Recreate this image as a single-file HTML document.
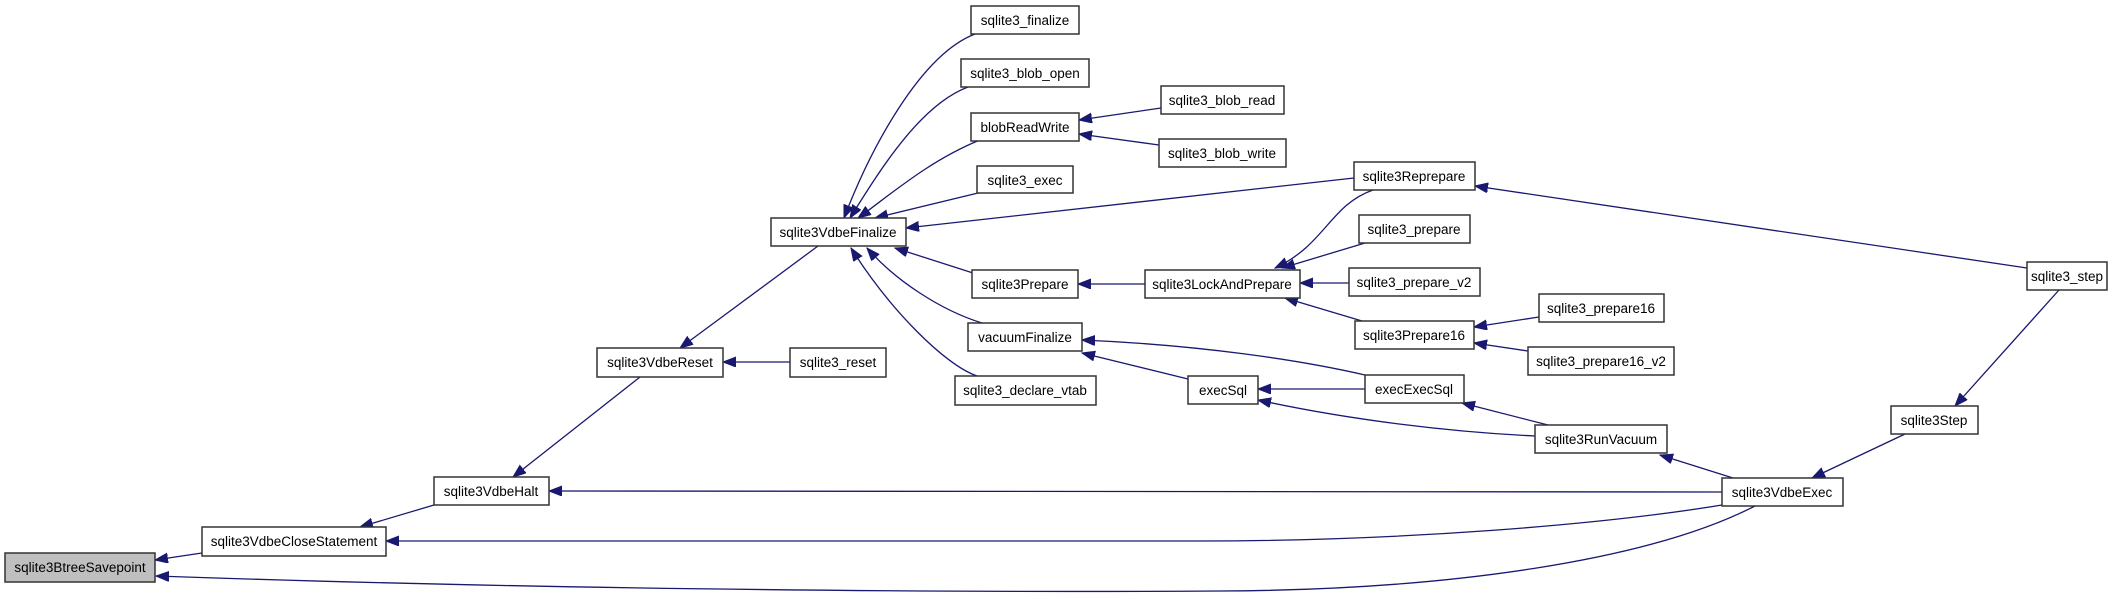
<!DOCTYPE html>
<html><head><meta charset="utf-8"><style>
html,body{margin:0;padding:0;background:#fff;}
svg{display:block;}
text{font-family:"Liberation Sans",sans-serif;font-size:13.5px;fill:#000;text-anchor:middle;}
.b{fill:#fff;stroke:#333;stroke-width:1.5;}
.e{fill:none;stroke:#191970;stroke-width:1.3;marker-end:url(#a);}
</style></head><body>
<svg width="2125" height="599" viewBox="0 0 2125 599" xmlns="http://www.w3.org/2000/svg">
<defs><marker id="a" markerUnits="userSpaceOnUse" markerWidth="14" markerHeight="12" refX="13" refY="5" orient="auto"><path d="M0,0 L13,5 L0,10 Z" fill="#191970" stroke="#191970"/></marker></defs>
<g>
<path class="e" d="M975,34 C920,55 870,150 844,218"/>
<path class="e" d="M968,87 C920,105 880,170 850,218"/>
<path class="e" d="M980,140 C930,160 890,195 858,218"/>
<path class="e" d="M978,193 L875,218"/>
<path class="e" d="M1354,178 L906,228"/>
<path class="e" d="M973,273 L895,248"/>
<path class="e" d="M982,323 C940,310 895,280 867,248"/>
<path class="e" d="M977,376 C945,365 890,310 851,248"/>
<path class="e" d="M818,246 L680,348"/>
<path class="e" d="M790,362 L723,362"/>
<path class="e" d="M640,377 L513,477"/>
<path class="e" d="M434,505 L360,527"/>
<path class="e" d="M202,553 L155,560"/>
<path class="e" d="M1722,492 L549,491"/>
<path class="e" d="M1722,505 C1600,525 1400,541 1200,541 L386,541"/>
<path class="e" d="M1755,506 C1650,560 1450,590 1220,591 C900,593 500,588 156,576"/>
<path class="e" d="M1161,108 L1079,120"/>
<path class="e" d="M1159,145 L1079,134"/>
<path class="e" d="M1145,284 L1078,284"/>
<path class="e" d="M1373,190 C1330,205 1325,245 1275,268"/>
<path class="e" d="M1365,243 L1282,268"/>
<path class="e" d="M1349,283 L1300,283"/>
<path class="e" d="M1362,321 L1285,298"/>
<path class="e" d="M1539,317 L1474,327"/>
<path class="e" d="M1528,351 L1474,343"/>
<path class="e" d="M2027,268 L1475,186"/>
<path class="e" d="M2059,290 L1955,406"/>
<path class="e" d="M1905,434 L1812,478"/>
<path class="e" d="M1365,375 C1300,360 1200,345 1082,340"/>
<path class="e" d="M1188,379 L1082,353"/>
<path class="e" d="M1365,389 L1258,389"/>
<path class="e" d="M1535,436 C1450,432 1350,420 1258,400"/>
<path class="e" d="M1548,425 L1462,403"/>
<path class="e" d="M1733,478 L1660,455"/>
</g>
<g>
<rect x="5" y="553" width="150" height="29" fill="#bfbfbf" stroke="#333" stroke-width="1.5"/><text x="80" y="572">sqlite3BtreeSavepoint</text>
<rect class="b" x="202" y="527" width="184" height="29"/><text x="294" y="546">sqlite3VdbeCloseStatement</text>
<rect class="b" x="434" y="477" width="115" height="28"/><text x="491" y="496">sqlite3VdbeHalt</text>
<rect class="b" x="597" y="348" width="126" height="29"/><text x="660" y="367">sqlite3VdbeReset</text>
<rect class="b" x="790" y="348" width="96" height="29"/><text x="838" y="367">sqlite3_reset</text>
<rect class="b" x="771" y="218" width="135" height="28"/><text x="838" y="237">sqlite3VdbeFinalize</text>
<rect class="b" x="971" y="6" width="108" height="28"/><text x="1025" y="25">sqlite3_finalize</text>
<rect class="b" x="961" y="59" width="128" height="28"/><text x="1025" y="78">sqlite3_blob_open</text>
<rect class="b" x="971" y="113" width="108" height="28"/><text x="1025" y="132">blobReadWrite</text>
<rect class="b" x="977" y="166" width="96" height="27"/><text x="1025" y="185">sqlite3_exec</text>
<rect class="b" x="972" y="270" width="106" height="28"/><text x="1025" y="289">sqlite3Prepare</text>
<rect class="b" x="968" y="323" width="114" height="28"/><text x="1025" y="342">vacuumFinalize</text>
<rect class="b" x="955" y="376" width="141" height="29"/><text x="1025" y="395">sqlite3_declare_vtab</text>
<rect class="b" x="1161" y="86" width="123" height="28"/><text x="1222" y="105">sqlite3_blob_read</text>
<rect class="b" x="1159" y="139" width="127" height="28"/><text x="1222" y="158">sqlite3_blob_write</text>
<rect class="b" x="1145" y="270" width="155" height="28"/><text x="1222" y="289">sqlite3LockAndPrepare</text>
<rect class="b" x="1188" y="376" width="70" height="28"/><text x="1223" y="395">execSql</text>
<rect class="b" x="1354" y="162" width="121" height="28"/><text x="1414" y="181">sqlite3Reprepare</text>
<rect class="b" x="1359" y="215" width="111" height="28"/><text x="1414" y="234">sqlite3_prepare</text>
<rect class="b" x="1349" y="268" width="131" height="28"/><text x="1414" y="287">sqlite3_prepare_v2</text>
<rect class="b" x="1355" y="321" width="119" height="28"/><text x="1414" y="340">sqlite3Prepare16</text>
<rect class="b" x="1365" y="375" width="99" height="28"/><text x="1414" y="394">execExecSql</text>
<rect class="b" x="1539" y="294" width="125" height="28"/><text x="1601" y="313">sqlite3_prepare16</text>
<rect class="b" x="1528" y="347" width="146" height="28"/><text x="1601" y="366">sqlite3_prepare16_v2</text>
<rect class="b" x="1535" y="425" width="132" height="28"/><text x="1601" y="444">sqlite3RunVacuum</text>
<rect class="b" x="1722" y="478" width="121" height="28"/><text x="1782" y="497">sqlite3VdbeExec</text>
<rect class="b" x="1891" y="406" width="87" height="28"/><text x="1934" y="425">sqlite3Step</text>
<rect class="b" x="2027" y="262" width="80" height="28"/><text x="2067" y="281">sqlite3_step</text>
</g>
</svg>
</body></html>
